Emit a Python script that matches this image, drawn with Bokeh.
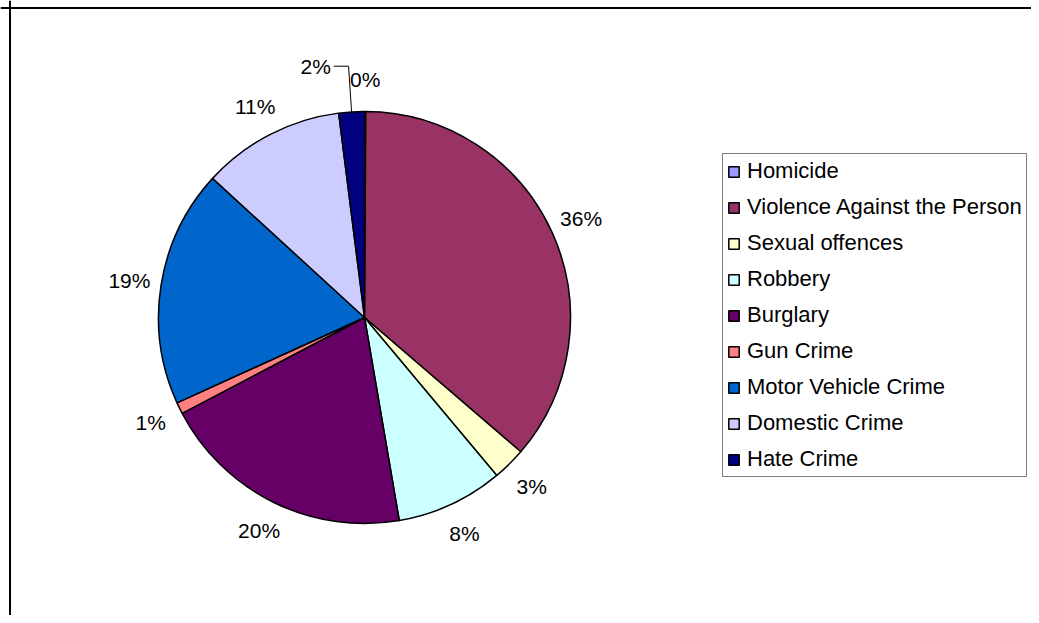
import math
from bokeh.plotting import figure
from bokeh.models import ColumnDataSource, Range1d, Legend, LegendItem, Span
from bokeh.core.properties import value
from bokeh.embed import file_html
from bokeh.resources import INLINE

# ---- data ----
categories = ["Homicide", "Violence Against the Person", "Sexual offences", "Robbery",
              "Burglary", "Gun Crime", "Motor Vehicle Crime", "Domestic Crime", "Hate Crime"]
shares = [0.1, 36.2, 2.6, 8.4, 20.0, 0.9, 18.6, 11.2, 2.0]
colors = ["#9999FF", "#993366", "#FFFFCC", "#CCFFFF", "#660066",
          "#FF8080", "#0066CC", "#CCCCFF", "#000080"]

# ---- layout constants (pixel-like data units) ----
W, H = 1031, 615
CX, CY = 364, -317        # pie centre
R = 206                   # pie radius
LABEL_R = 238             # label distance from centre
FONT = "Liberation Sans"
# label moved away from its slice (with a leader line)
MOVED = {"Hate Crime": (256, -7.4)}   # (radius, angle offset in degrees, clockwise positive)

total = sum(shares)
cum = 0.0
start, end, lx, ly, ltxt = [], [], [], [], []
leader_x, leader_y = [], []
for cat, v in zip(categories, shares):
    f0 = cum / total
    cum += v
    f1 = cum / total
    start.append(math.pi / 2 - 2 * math.pi * f1)
    end.append(math.pi / 2 - 2 * math.pi * f0)
    mid = (f0 + f1) / 2 * 360.0  # degrees clockwise from top
    r_l, d_a = MOVED.get(cat, (LABEL_R, 0.0))
    a = math.radians(mid + d_a)
    x = CX + r_l * math.sin(a)
    y = CY + r_l * math.cos(a)
    lx.append(x)
    ly.append(y)
    ltxt.append(f"{round(100 * v / total):d}%")
    if cat in MOVED:
        am = math.radians(mid)
        ex = CX + R * math.sin(am)
        ey = CY + R * math.cos(am)
        leader_x = [x + 18, ex - 3, ex]
        leader_y = [y, y, ey]

src = ColumnDataSource(dict(category=categories, value=shares, color=colors,
                            start=start, end=end,
                            x=[CX] * len(categories), y=[CY] * len(categories)))
lab = ColumnDataSource(dict(x=lx, y=ly, text=ltxt))

p = figure(width=W, height=H, output_backend="svg", toolbar_location=None,
           x_range=Range1d(0, W), y_range=Range1d(-H, 0),
           x_axis_location=None, y_axis_location=None, min_border=0,
           outline_line_color=None, background_fill_color="white",
           border_fill_color="white")
p.grid.visible = False

r = p.wedge(x="x", y="y", radius=R, start_angle="start", end_angle="end",
            direction="anticlock", fill_color="color", line_color="black",
            line_width=1.5, source=src)

p.text(x="x", y="y", text="text", source=lab, text_align="center",
       text_baseline="middle", text_font=value(FONT), text_font_size="21px",
       text_color="black")

p.line(x=leader_x, y=leader_y, line_color="black", line_width=1)

# chart-area border (only top and left are within view)
p.add_layout(Span(location=-7.5, dimension="width", line_color="black", line_width=2))
p.add_layout(Span(location=9.5, dimension="height", line_color="black", line_width=2))

items = [LegendItem(label=c, renderers=[r], index=i) for i, c in enumerate(categories)]
legend = Legend(items=items, location=(722, 138), orientation="vertical",
                label_text_font=FONT, label_text_font_size="22px",
                label_text_color="black", glyph_width=13, glyph_height=13,
                label_standoff=7, label_height=22, spacing=10, padding=4,
                margin=0, border_line_color="black", border_line_width=1,
                background_fill_color="white", background_fill_alpha=1.0)
p.add_layout(legend)

open("out.html", "w").write(file_html(p, INLINE))
